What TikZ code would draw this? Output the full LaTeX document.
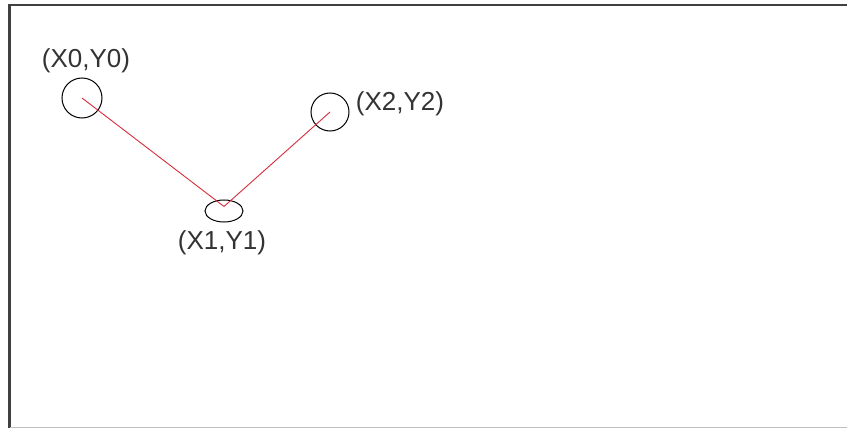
\documentclass[tikz,border=0pt]{standalone}
\usepackage{fontspec}
\setmainfont{Liberation Sans}
\usetikzlibrary{shapes.geometric}
\begin{document}
\begin{tikzpicture}[x=1pt,y=-1pt,
		ring/.style={draw,circle,minimum size=40pt,inner sep=0pt,line width=1pt},
		oval/.style={draw,ellipse,minimum width=38pt,minimum height=22pt,inner sep=0pt,line width=1pt},
		lbl/.style={font=\fontsize{26}{29}\selectfont,inner sep=0pt,text=black!80}]
	\useasboundingbox (0,0) rectangle (847,428);
	\fill[white] (0,0) rectangle (847,428);
	\draw[black!75,line width=2.2pt] (9.5,428) -- (9.5,5) -- (847,5);
	\draw[black!25,line width=1pt] (9.5,427.5) -- (847,427.5);
	\node[ring] (p0) at (82,98) {};
	\node[oval] (p1) at (224,211) {};
	\node[ring,minimum size=38pt] (p2) at (330,112) {};
	\node[lbl] (t0) at (86,61) {(X0,Y0)};
	\node[lbl] (t1) at (222,243) {(X1,Y1)};
	\node[lbl] (t2) at (400,104) {(X2,Y2)};
	\draw[color={rgb,255:red,215;green,45;blue,60},line width=0.9pt] (p0.center) -- ([yshift=-7pt]p1.north) -- (p2.center);
\end{tikzpicture}
\end{document}
